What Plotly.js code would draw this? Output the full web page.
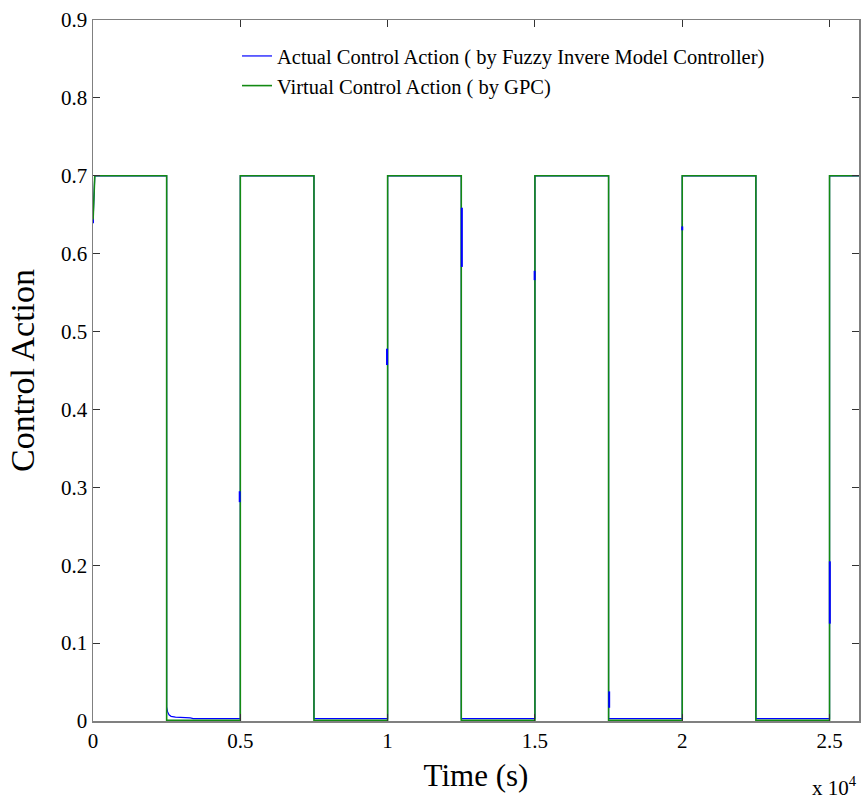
<!DOCTYPE html>
<html>
<head>
<meta charset="utf-8">
<script src="https://cdn.plot.ly/plotly-3.0.1.min.js"></script>
<style>html,body{margin:0;padding:0;background:#fff;}#chart{width:861px;height:799px;}</style>
</head>
<body>
<div id="chart"></div>
<script>
// Virtual control action (GPC) – time in seconds
const greenT = [0, 60, 2500, 2500, 5000, 5000, 7500, 7500, 10000, 10000, 12500, 12500, 15000, 15000, 17500, 17500, 20000, 20000, 22500, 22500, 25000, 25000, 26000];
const greenV = [0.64, 0.7, 0.7, 0.001, 0.001, 0.7, 0.7, 0.001, 0.001, 0.7, 0.7, 0.001, 0.001, 0.7, 0.7, 0.001, 0.001, 0.7, 0.7, 0.001, 0.001, 0.7, 0.7];

// Actual control action (Fuzzy inverse model controller)
const blueT = [0, 60, 2500, 2500, 2530, 2580, 2650, 2800, 3300, 3400, 5000, 5000, 7500, 7500, 10000, 10000, 12500, 12500, 15000, 15000, 17500, 17500, 20000, 20000, 22500, 22500, 25000, 25000, 26000];
const blueV = [0.64, 0.7, 0.7, 0.018, 0.012, 0.008, 0.006, 0.005, 0.004, 0.003, 0.003, 0.7, 0.7, 0.003, 0.003, 0.7, 0.7, 0.003, 0.003, 0.7, 0.7, 0.003, 0.003, 0.7, 0.7, 0.003, 0.003, 0.7, 0.7];

// Visible intermediate samples of the actual control action at switching instants
const spikeT  = [0, 4980, 9980, 12520, 14990, 17520, 20000, 25010];
const spikeLo = [0.639, 0.281, 0.457, 0.583, 0.566, 0.017, 0.630, 0.125];
const spikeHi = [0.644, 0.295, 0.478, 0.659, 0.578, 0.038, 0.635, 0.205];

const xTickVals = [0, 5000, 10000, 15000, 20000, 25000];
const xTickText = ['0', '0.5', '1', '1.5', '2', '2.5'];

const spikeX = [], spikeY = [];
spikeT.forEach((t, i) => { spikeX.push(t, t, null); spikeY.push(spikeLo[i], spikeHi[i], null); });

const FONT = 'Liberation Serif, Times New Roman, serif';

const traces = [
  {x: blueT, y: blueV, mode: 'lines', name: 'Actual Control Action ( by Fuzzy Invere Model Controller)',
   line: {color: '#0000ff', width: 1.2}},
  {x: greenT, y: greenV, mode: 'lines', name: 'Virtual Control Action ( by GPC)',
   line: {color: '#138a13', width: 1.6}},
  {x: spikeX, y: spikeY, mode: 'lines', showlegend: false, hoverinfo: 'skip',
   line: {color: '#0000ff', width: 2}}
];

const layout = {
  width: 861, height: 799,
  margin: {l: 93, r: 2, t: 20, b: 78},
  paper_bgcolor: '#fff', plot_bgcolor: '#fff',
  font: {family: FONT, color: '#000', size: 20},
  showlegend: true,
  legend: {x: 0.188, y: 0.977, xanchor: 'left', yanchor: 'top', bgcolor: 'rgba(0,0,0,0)',
           font: {family: FONT, size: 20.5, color: '#000'}, tracegroupgap: 0},
  xaxis: {range: [0, 26000], tickvals: xTickVals, ticktext: xTickText,
          showgrid: false, zeroline: false, showline: true, mirror: 'ticks',
          linecolor: '#808080', linewidth: 1.5, ticks: 'inside', ticklen: 7, tickcolor: '#333',
          tickfont: {family: FONT, size: 21},
          title: {text: 'Time (s)', font: {family: FONT, size: 31}, standoff: 12}},
  yaxis: {range: [0, 0.9], dtick: 0.1, tick0: 0,
          showgrid: false, zeroline: false, showline: true, mirror: 'ticks',
          linecolor: '#808080', linewidth: 1.5, ticks: 'inside', ticklen: 7, tickcolor: '#333',
          tickfont: {family: FONT, size: 21},
          title: {text: 'Control Action', font: {family: FONT, size: 34}, standoff: 16}},
  annotations: [
    {xref: 'paper', yref: 'paper', x: 1, y: 0, xanchor: 'right', yanchor: 'top', yshift: -50,
     text: 'x 10<sup>4</sup>', showarrow: false, font: {family: FONT, size: 21, color: '#000'}}
  ]
};

Plotly.newPlot('chart', traces, layout, {displayModeBar: false, staticPlot: true});
</script>
</body>
</html>
